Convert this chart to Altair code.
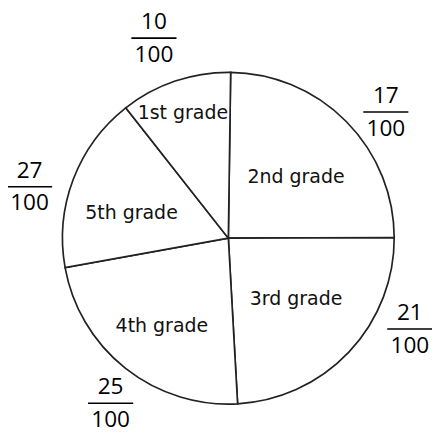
import math
import altair as alt
import pandas as pd

# ---- data ----
grades = ["2nd grade", "3rd grade", "4th grade", "5th grade", "1st grade"]
numerators = [17, 21, 25, 27, 10]
denominator = 100
drawn_degrees = [89, 87, 83, 62, 39]  # slice sizes as drawn (degrees)

# ---- layout (label placement, polar: angle clockwise from top, radius px) ----
grade_label_angle = [47.9, 132.1, 217.2, 284.7, 340.1]
grade_label_radius = [93, 93, 112, 102, 136]
frac_label_angle = [51.3, 116.6, 215.5, 284.5, 339.6]
frac_label_radius = [205.6, 206.8, 206.6, 209.2, 217.5]

CX, CY, R = 224.5, 230.5, 169
START = math.radians(0.8)

df = pd.DataFrame({
    "grade": grades,
    "num": [str(n) for n in numerators],
    "den": [str(denominator)] * len(grades),
    "deg": drawn_degrees,
    "order": list(range(len(grades))),
    "ga": grade_label_angle,
    "gr": grade_label_radius,
    "fa": frac_label_angle,
    "fr": frac_label_radius,
})

base = alt.Chart(df).transform_calculate(
    gx=f"{CX} + datum.gr * sin(datum.ga * PI / 180)",
    gy=f"{CY} - datum.gr * cos(datum.ga * PI / 180)",
    fx=f"{CX} + datum.fr * sin(datum.fa * PI / 180)",
    fy=f"{CY} - datum.fr * cos(datum.fa * PI / 180)",
).transform_calculate(
    fx1="datum.fx - 23",
    fx2="datum.fx + 23",
)

pie = alt.Chart(df).mark_arc(
    outerRadius=R, fill="white", stroke="#222222", strokeWidth=1.7
).encode(
    theta=alt.Theta("deg:Q", stack=True,
                    scale=alt.Scale(domain=[0, 360], range=[START, START + 2 * math.pi])),
    order=alt.Order("order:Q"),
    x=alt.value(CX),
    y=alt.value(CY),
)

grade_text = base.mark_text(
    font="DejaVu Sans", fontSize=19.3, baseline="middle", align="center", color="#111111"
).encode(
    x=alt.X("gx:Q", scale=None, axis=None),
    y=alt.Y("gy:Q", scale=None, axis=None),
    text="grade:N",
)

num_text = base.mark_text(
    font="Open Sans", fontSize=23, baseline="alphabetic", align="center", dy=-9, color="#000000"
).encode(
    x=alt.X("fx:Q", scale=None, axis=None),
    y=alt.Y("fy:Q", scale=None, axis=None),
    text="num:N",
)

den_text = base.mark_text(
    font="Open Sans", fontSize=23, baseline="alphabetic", align="center", dy=24, color="#000000"
).encode(
    x=alt.X("fx:Q", scale=None, axis=None),
    y=alt.Y("fy:Q", scale=None, axis=None),
    text="den:N",
)

bars = base.mark_rule(strokeWidth=1.6, color="#000000").encode(
    x=alt.X("fx1:Q", scale=None, axis=None),
    x2="fx2:Q",
    y=alt.Y("fy:Q", scale=None, axis=None),
)

chart = alt.layer(pie, grade_text, num_text, den_text, bars).properties(
    width=432, height=427, padding=0,
    autosize=alt.AutoSizeParams(type="none"),
).configure_view(stroke=None)

chart.save("out.html", embed_options={"renderer": "svg", "actions": False})
